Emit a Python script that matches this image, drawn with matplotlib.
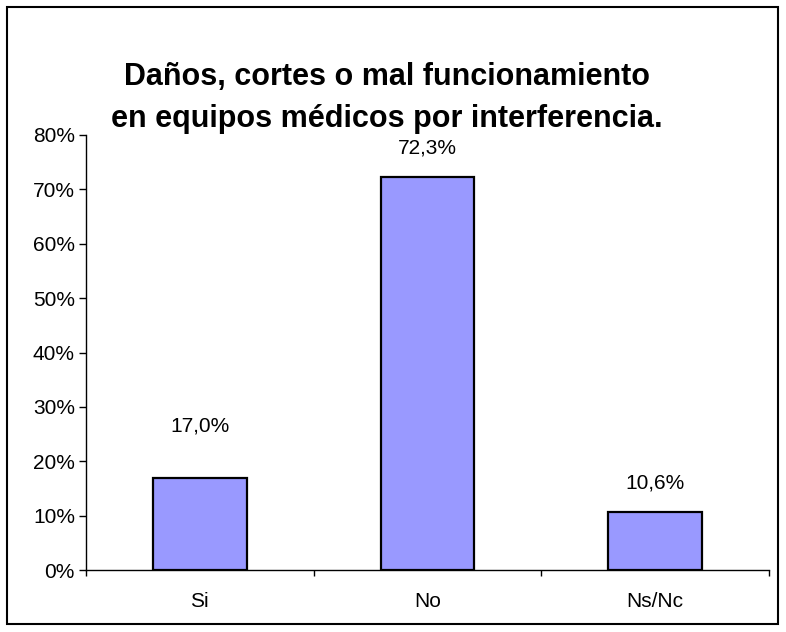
import matplotlib.pyplot as plt
import matplotlib.patches as patches
from matplotlib.ticker import FuncFormatter, MultipleLocator

plt.rcParams['font.family'] = ['Liberation Sans', 'DejaVu Sans']

categories = ['Si', 'No', 'Ns/Nc']
values = [17.0, 72.3, 10.6]
labels = ['17,0%', '72,3%', '10,6%']
title = 'Daños, cortes o mal funcionamiento\nen equipos médicos por interferencia.'

fig = plt.figure(figsize=(7.86, 6.32), dpi=100)
ax = fig.add_axes([86 / 786, 1 - 570 / 632, 683 / 786, 435 / 632])

x = range(len(categories))
ax.bar(x, values, width=0.41, color='#9999FF', edgecolor='black', linewidth=1.6, zorder=2)

# etiquetas de datos (Si queda algo más alta en el original)
offsets = [37, 21, 21]
for i, (v, lab) in enumerate(zip(values, labels)):
    ax.annotate(lab, (i, v), xytext=(0, offsets[i]), textcoords='offset points',
                ha='center', va='center', fontsize=15)

ax.set_xlim(-0.5, 2.5)
ax.set_ylim(0, 80)
ax.yaxis.set_major_locator(MultipleLocator(10))
ax.yaxis.set_major_formatter(FuncFormatter(lambda v, p: '%d%%' % v))
ax.set_xticks([-0.5, 0.5, 1.5, 2.5], minor=False)
ax.set_xticklabels([])
ax.set_xticks(list(x), minor=True)
ax.set_xticklabels(categories, minor=True)
ax.tick_params(axis='x', which='major', direction='out', length=4, width=1)
ax.tick_params(axis='x', which='minor', length=0, pad=16, labelsize=15)
ax.tick_params(axis='y', direction='out', length=5, width=1, labelsize=15, pad=3)

for s in ['top', 'right']:
    ax.spines[s].set_visible(False)
for s in ['left', 'bottom']:
    ax.spines[s].set_linewidth(1)

fig.text(0.492, 1 - 98 / 632, title, ha='center', va='center', fontsize=22,
         fontweight='bold', linespacing=1.5)

# marco exterior
fig.patches.append(patches.Rectangle((7 / 786, 8 / 632), 771 / 786, 617 / 632,
                                     transform=fig.transFigure, fill=False,
                                     edgecolor='black', linewidth=1.5))

plt.savefig('out.png', dpi=100)
